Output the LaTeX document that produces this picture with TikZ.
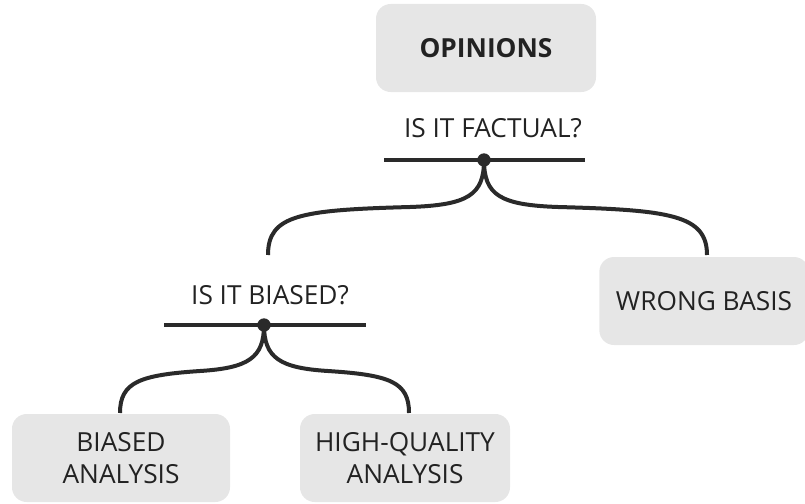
\documentclass[tikz,border=0pt]{standalone}
\usepackage{fontspec}
\setmainfont{Open Sans}
\definecolor{boxgray}{HTML}{E6E6E6}
\definecolor{ink}{HTML}{2A2A2A}
\definecolor{txt}{HTML}{222222}
\begin{document}
\begin{tikzpicture}[x=0.75pt,y=-0.75pt,
  box/.style={fill=boxgray, rounded corners=11pt, text=txt, align=center, font=\fontsize{19.7}{24.5}\selectfont, inner sep=0pt},
  question/.style={text=txt, font=\fontsize{19.7}{24.5}\selectfont, inner sep=0pt},
  bar/.style={draw=ink, line width=2.4pt},
  brace/.style={draw=ink, line width=3pt},
  dotnode/.style={circle, fill=ink, minimum size=10pt, inner sep=0pt}]
\useasboundingbox (0,0) rectangle (805,503);
% boxes
\node[box, minimum width=165pt, minimum height=66pt, font=\fontsize{19.7}{24.5}\selectfont\bfseries] (op) at (486,48) {OPINIONS};
\node[box, minimum width=157pt, minimum height=66pt] (wb) at (704,301) {WRONG BASIS};
\node[box, minimum width=163.5pt, minimum height=66pt] (ba) at (121,458) {BIASED\\ANALYSIS};
\node[box, minimum width=157.5pt, minimum height=66pt] (hq) at (405,458) {HIGH-QUALITY\\ANALYSIS};
% questions
\node[question] (q1) at (493,128) {IS IT FACTUAL?};
\node[question] (q2) at (270,295) {IS IT BIASED?};
% bars
\coordinate (b1l) at (384,160); \coordinate (b1r) at (585,160);
\coordinate (b2l) at (164,325); \coordinate (b2r) at (366,325);
\draw[bar] (b1l) -- (b1r);
\draw[bar] (b2l) -- (b2r);
\node[dotnode] (d1) at (484,160) {};
\node[dotnode] (d2) at (264,325) {};
% branch ends
\coordinate (e1) at (268,255);
\coordinate (e2) at (707,255);
\coordinate (e3) at (120,413);
\coordinate (e4) at (409,413);
% braces
\draw[brace] (d1.center) .. controls (484,195) and (468,205) .. (410,207) .. controls (300,210) and (268,215) .. (e1);
\draw[brace] (d1.center) .. controls (484,195) and (500,205) .. (558,207) .. controls (670,210) and (707,215) .. (e2);
\draw[brace] (d2.center) .. controls (264,358) and (248,368) .. (200,371) .. controls (140,375) and (120,382) .. (e3);
\draw[brace] (d2.center) .. controls (264,358) and (280,368) .. (328,371) .. controls (390,375) and (409,382) .. (e4);
\end{tikzpicture}
\end{document}
